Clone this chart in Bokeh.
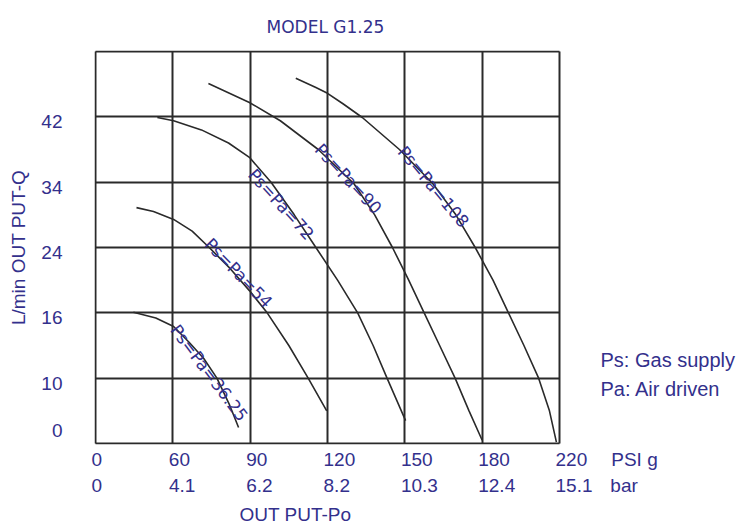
from bokeh.plotting import figure
from bokeh.models import LinearAxis, FixedTicker, Grid, Label
from bokeh.core.properties import value
from bokeh.embed import file_html
from bokeh.resources import INLINE
import math

# ---------------- data (grid units: one unit = one grid cell) ----------------
title_text = "MODEL G1.25"
psi_labels = ["0", "60", "90", "120", "150", "180", "220"]
bar_labels = ["0", "4.1", "6.2", "8.2", "10.3", "12.4", "15.1"]
psi_unit = "PSI g"
bar_unit = "bar"
flow_labels = ["0", "10", "16", "24", "34", "42"]
x_title = "OUT PUT-Po"
y_title = "L/min OUT PUT-Q"
notes = ["Ps: Gas supply", "Pa: Air driven"]
series_names = ["Ps=Pa=36.25", "Ps=Pa=54", "Ps=Pa=72", "Ps=Pa=90", "Ps=Pa=108"]

c36_x = [0.49, 0.78, 1.01, 1.21, 1.40, 1.57, 1.73, 1.85]
c36_y = [2.01, 1.92, 1.79, 1.55, 1.30, 1.00, 0.60, 0.245]
c54_x = [0.53, 0.75, 1.01, 1.25, 1.47, 1.74, 1.99, 2.22, 2.50, 2.75, 2.99]
c54_y = [3.61, 3.55, 3.43, 3.25, 3.00, 2.68, 2.34, 2.00, 1.50, 1.00, 0.50]
c72_x = [0.80, 1.01, 1.37, 1.72, 1.99, 2.27, 2.57, 2.85, 3.13, 3.39, 3.59, 3.77, 4.01]
c72_y = [4.99, 4.94, 4.80, 4.60, 4.38, 4.00, 3.50, 3.00, 2.50, 2.00, 1.50, 1.00, 0.35]
c90_x = [1.46, 1.99, 2.39, 2.88, 3.34, 3.61, 3.84, 4.05, 4.25, 4.45, 4.65, 4.83, 5.00]
c90_y = [5.51, 5.22, 4.94, 4.50, 3.98, 3.50, 3.00, 2.50, 2.00, 1.50, 1.00, 0.50, 0.05]
c108_x = [2.59, 2.85, 3.00, 3.20, 3.45, 3.93, 4.36, 4.66, 4.91, 5.14, 5.34, 5.54, 5.73, 5.87, 5.96]
c108_y = [5.59, 5.45, 5.36, 5.20, 4.99, 4.50, 3.98, 3.50, 3.00, 2.50, 2.00, 1.50, 1.00, 0.50, 0.02]

curves_x = [c36_x, c54_x, c72_x, c90_x, c108_x]
curves_y = [c36_y, c54_y, c72_y, c90_y, c108_y]

# ---------------- layout / style ----------------
TXT = "#33308c"
LINE = "#2a2a2a"
W, H = 741, 527
NX, NY = 6, 6
GRID_W, GRID_H = 464, 392          # size of the 6x6 grid box in px
PX_X = GRID_W / NX
PX_Y = GRID_H / NY
PAD_X, PAD_Y = 1 / PX_X, 1 / PX_Y  # 1px so that the box edges are not range ends
LEFT, TOP = 94, 50
FRAME_H = GRID_H + 2
BOTTOM = H - TOP - FRAME_H
X_MAX = (W - LEFT) / PX_X - PAD_X   # frame runs on to the right edge for the notes

# curve label placement (grid units) and rotation (degrees)
lab_x = [1.47, 1.85, 2.40, 3.27, 4.37]
lab_y = [1.08, 2.61, 3.66, 4.05, 3.93]
lab_ang = [-53, -46, -48, -47, -50]

p = figure(width=W, height=H, x_range=(-PAD_X, X_MAX), y_range=(-PAD_Y, NY + PAD_Y),
           x_axis_type=None, y_axis_type=None, toolbar_location=None,
           output_backend="svg", min_border_left=LEFT, min_border_right=0,
           min_border_top=TOP, min_border_bottom=BOTTOM)
p.background_fill_color = "white"
p.border_fill_color = "white"
p.outline_line_color = None

p.title.text = title_text
p.title.align = "left"
p.title.vertical_align = "top"
p.title.offset = 172
p.title.standoff = 24
p.title.text_font = "DejaVu Sans"
p.title.text_font_size = "17px"
p.title.text_font_style = "normal"
p.title.text_color = TXT

# grid (the box itself is the outer grid lines)
p.add_layout(Grid(dimension=0, ticker=FixedTicker(ticks=list(range(NX + 1))),
                  cross_bounds=(0, NY), grid_line_color=LINE, grid_line_width=2))
p.add_layout(Grid(dimension=1, ticker=FixedTicker(ticks=list(range(NY + 1))),
                  cross_bounds=(0, NX), grid_line_color=LINE, grid_line_width=2))


def style_axis(ax, standoff, size="19px"):
    ax.axis_line_color = None
    ax.major_tick_line_color = None
    ax.minor_tick_line_color = None
    ax.major_label_text_font = "Liberation Sans"
    ax.major_label_text_font_size = size
    ax.major_label_text_color = TXT
    ax.major_label_standoff = standoff


# y axis: labels sit slightly below their grid line, "0" lifted off the bottom
ypos = [0.2] + [round(i - 5 / PX_Y, 4) for i in range(1, len(flow_labels))]
yax = LinearAxis(ticker=FixedTicker(ticks=ypos),
                 major_label_overrides={v: t for v, t in zip(ypos, flow_labels)},
                 axis_label=y_title)
style_axis(yax, 26)
yax.axis_label_text_font = "Liberation Sans"
yax.axis_label_text_font_size = "19px"
yax.axis_label_text_font_style = "normal"
yax.axis_label_text_color = TXT
yax.axis_label_standoff = 9
p.add_layout(yax, "left")


def text_w(t):
    return 10.6 * sum(c.isdigit() for c in t) + 5.3 * t.count(".")


def row_positions(labels, unit):
    # labels start ~4px left of their grid line; unit text starts 49px right of the grid
    out = [round(i + (-4 + text_w(t) / 2) / PX_X, 4) for i, t in enumerate(labels)]
    out.append(round(NX + (49 + 10.4 * len(unit) / 2) / PX_X, 4))
    return out


xpos1 = row_positions(psi_labels, psi_unit)
xax1 = LinearAxis(ticker=FixedTicker(ticks=xpos1),
                  major_label_overrides={v: t for v, t in zip(xpos1, psi_labels + [psi_unit])})
style_axis(xax1, -2)
p.add_layout(xax1, "below")

xpos2 = row_positions(bar_labels, bar_unit)
xax2 = LinearAxis(ticker=FixedTicker(ticks=xpos2),
                  major_label_overrides={v: t for v, t in zip(xpos2, bar_labels + [bar_unit])})
style_axis(xax2, -4)
p.add_layout(xax2, "below")

# axis title row, centred where the reference has it (left of the grid centre)
xt_pos = round((294 - LEFT) / PX_X, 4)
xax3 = LinearAxis(ticker=FixedTicker(ticks=[xt_pos]),
                  major_label_overrides={xt_pos: x_title})
style_axis(xax3, -1)
p.add_layout(xax3, "below")

# curves
for xs, ys in zip(curves_x, curves_y):
    p.line(xs, ys, line_color=LINE, line_width=1.6)

p.text(x=lab_x, y=lab_y, text=series_names,
       angle=[math.radians(a) for a in lab_ang],
       text_align="center", text_baseline="middle",
       text_font=value("DejaVu Sans"), text_font_size=value("17px"),
       text_color=TXT)

# notes at the right
for txt, dy in zip(notes, [84, 55]):
    p.add_layout(Label(x=NX + 41 / PX_X, y=dy / PX_Y, text=txt,
                       text_font="Liberation Sans", text_font_size="20px",
                       text_color=TXT, text_align="left", text_baseline="middle"))

open("out.html", "w").write(file_html(p, INLINE))
